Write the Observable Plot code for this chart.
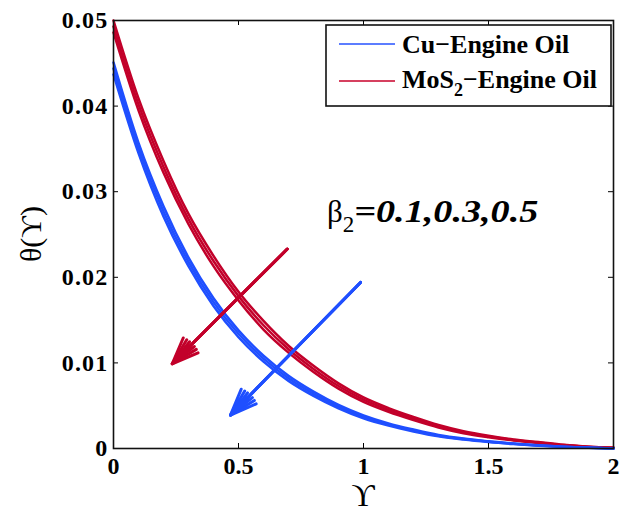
<!DOCTYPE html>
<html><head><meta charset="utf-8">
<script src="https://cdn.jsdelivr.net/npm/d3@7"></script>
<script src="https://cdn.jsdelivr.net/npm/@observablehq/plot@0.6"></script>
<style>body{margin:0;background:#fff;} #chart{width:622px;height:515px;}
g[aria-label="y-axis tick label"] text{letter-spacing:1.2px;}
</style>
</head><body><div id="chart"></div>
<script>
// ---- data ----
const xs = [0,0.1,0.2,0.3,0.4,0.5,0.6,0.7,0.8,0.9,1.0,1.1,1.2,1.3,1.4,1.5,1.6,1.7,1.8,1.9,2.0];
const cuB01 = [0.0451,0.0357,0.0283,0.0223,0.01756,0.0138,0.01085,0.0085,0.00665,0.0051,0.00387,0.00293,0.00221,0.00158,0.00116,0.00085,0.00058,0.00037,0.00021,0.00011,0];
const cuB03 = [0.0444,0.0351,0.0277,0.0218,0.0171,0.0134,0.0105,0.0082,0.0064,0.0049,0.0037,0.0028,0.0021,0.0015,0.0011,0.0008,0.00055,0.00035,0.0002,0.0001,0];
const cuB05 = [0.0437,0.0345,0.0271,0.0213,0.01664,0.0130,0.01015,0.0079,0.00615,0.0047,0.00353,0.00267,0.00199,0.00142,0.00104,0.00075,0.00052,0.00033,0.00019,0.00009,0];
const mosB01 = [0.0500,0.0409,0.0336,0.0274,0.0225,0.0183,0.0149,0.0120,0.00966,0.00761,0.00596,0.00472,0.00368,0.00274,0.00201,0.00148,0.00106,0.00075,0.00043,0.00021,0.0001];
const mosB03 = [0.0493,0.0402,0.0329,0.0268,0.0219,0.0178,0.0144,0.0116,0.0093,0.0073,0.0057,0.0045,0.0035,0.0026,0.0019,0.0014,0.0010,0.0007,0.0004,0.0002,0.0001];
const mosB05 = [0.0486,0.0395,0.0322,0.0262,0.0213,0.0173,0.0139,0.0112,0.00894,0.00699,0.00544,0.00428,0.00332,0.00246,0.00179,0.00132,0.00094,0.00065,0.00037,0.00019,0.0001];
const xTicks = [0,0.5,1,1.5,2];
const yTicks = [0,0.01,0.02,0.03,0.04,0.05];
const fluids = ["Cu\u2212Engine Oil","MoS2\u2212Engine Oil"];
const fluidColors = ["#1f4fff","#c2002a"];
const legendColors = ["#5c7dff","#d6405f"];
const arrowFluid = ["MoS2\u2212Engine Oil","Cu\u2212Engine Oil"];
const arrowX1 = [0.695,0.988];
const arrowY1 = [0.0233,0.0194];
const arrowX2 = [0.235,0.468];
const arrowY2 = [0.0099,0.0039];

// ---- build tables ----
const series = [
  {fluid:1, beta:0.1, vals:mosB01},{fluid:1, beta:0.3, vals:mosB03},{fluid:1, beta:0.5, vals:mosB05},
  {fluid:0, beta:0.1, vals:cuB01},{fluid:0, beta:0.3, vals:cuB03},{fluid:0, beta:0.5, vals:cuB05}
];
const rows = [];
series.forEach((s,si)=>s.vals.forEach((v,i)=>rows.push({x:xs[i], y:v, id:si, color:fluidColors[s.fluid]})));
const arrows = arrowFluid.map((f,i)=>({x1:arrowX1[i],y1:arrowY1[i],x2:arrowX2[i],y2:arrowY2[i],color:fluidColors[fluids.indexOf(f)]}));

const W=622,H=515,mL=113,mR=9,mT=20,mB=67;
const pw=W-mL-mR, ph=H-mT-mB;
const serif = "'Liberation Serif','Times New Roman',serif";
const arrowOpts = {x1:"x1",y1:"y1",x2:"x2",y2:"y2",stroke:"color",strokeWidth:3,headLength:14};

const plot = Plot.plot({
  width:W, height:H, marginLeft:mL, marginRight:mR, marginTop:mT, marginBottom:mB,
  x:{domain:[0,2]}, y:{domain:[0,0.05]},
  color:{type:"identity"},
  style:{fontFamily:serif, background:"white", color:"black"},
  marks:[
    Plot.line(rows,{x:"x",y:"y",z:"id",stroke:"color",strokeWidth:2.5,curve:"monotone-x"}),
    Plot.arrow(arrows,{...arrowOpts, headAngle:44}),
    Plot.arrow(arrows,{...arrowOpts, headAngle:28}),
    Plot.arrow(arrows,{...arrowOpts, headAngle:14}),
    Plot.tickY(yTicks,{y:d=>d, insetRight:pw-5, stroke:"black"}),
    Plot.tickY(yTicks,{y:d=>d, insetLeft:pw-5, stroke:"black"}),
    Plot.tickX(xTicks,{x:d=>d, insetTop:ph-5, stroke:"black"}),
    Plot.tickX(xTicks,{x:d=>d, insetBottom:ph-5, stroke:"black"}),
    Plot.axisX(xTicks,{tickSize:0, tickPadding:8, label:null, fontSize:24, fontWeight:"bold", tickFormat:d=>String(d)}),
    Plot.axisY(yTicks,{tickSize:0, tickPadding:5, label:null, fontSize:24, fontWeight:"bold", tickFormat:d=>String(d)}),
    Plot.frame({stroke:"#111", strokeWidth:1.6})
  ]
});
document.getElementById("chart").appendChild(plot);

const svg = d3.select(plot);
const sx = plot.scale("x");
// axis titles
svg.append("text").attr("transform",`translate(41,${(mT+H-mB)/2}) rotate(-90)`)
  .attr("text-anchor","middle").attr("font-family",serif).attr("font-size",30).text("\u03B8(\u03D2)");
svg.append("text").attr("x",sx.apply(1)).attr("y",506).attr("text-anchor","middle")
  .attr("font-family",serif).attr("font-size",32).text("\u03D2");
// annotation
const ann = svg.append("text").attr("x",327).attr("y",222).attr("text-anchor","start")
  .attr("font-family",serif).attr("font-size",31);
ann.append("tspan").text("\u03B2");
ann.append("tspan").attr("font-size",23).attr("dy",10).text("2");
ann.append("tspan").attr("dy",-10).attr("font-weight","bold").attr("font-style","italic")
  .attr("textLength",184).attr("lengthAdjust","spacingAndGlyphs").text("=0.1,0.3,0.5");
// legend
const lg = svg.append("g").attr("text-anchor","start");
lg.append("rect").attr("x",326).attr("y",25).attr("width",285).attr("height",81)
  .attr("fill","white").attr("stroke","#111").attr("stroke-width",1.6);
[44,81].forEach((yy,i)=>{
  lg.append("line").attr("x1",339).attr("x2",395).attr("y1",yy).attr("y2",yy)
    .attr("stroke",legendColors[i]).attr("stroke-width",2);
});
lg.append("text").attr("x",402).attr("y",53).attr("font-family",serif).attr("font-weight","bold")
  .attr("font-size",26).text(fluids[0]);
const t2 = lg.append("text").attr("x",402).attr("y",88).attr("font-family",serif).attr("font-weight","bold").attr("font-size",26);
t2.append("tspan").text("MoS");
t2.append("tspan").attr("font-size",18).attr("dy",8).text("2");
t2.append("tspan").attr("dy",-8).text("\u2212Engine Oil");
</script></body></html>
